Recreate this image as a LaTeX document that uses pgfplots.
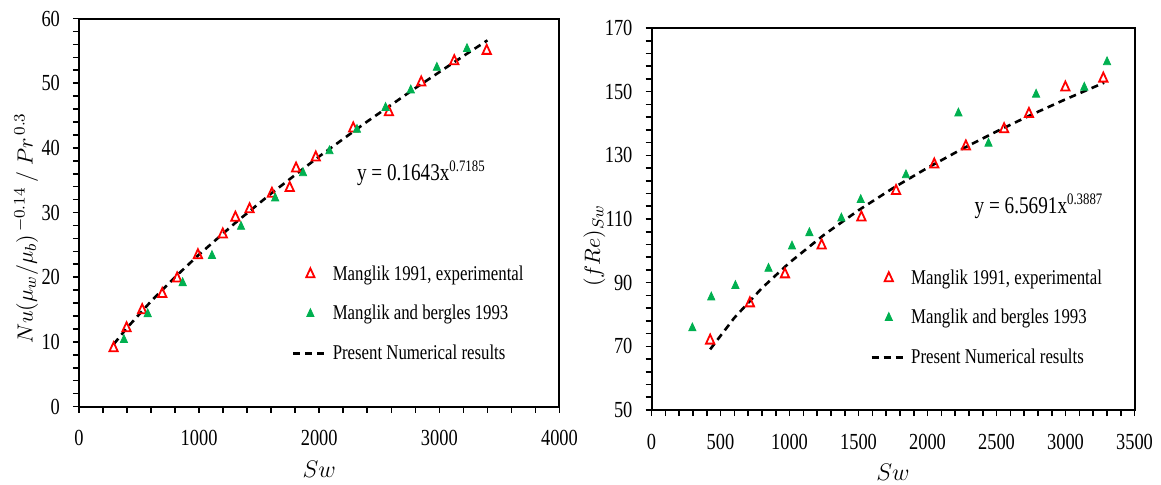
\documentclass[border=0pt]{standalone}
\usepackage{fontspec}
\setmainfont{Liberation Serif}
\newfontfamily\cond[FakeStretch=0.8]{Liberation Serif}
\usepackage{pgfplots}
\pgfplotsset{compat=1.18}
\definecolor{mred}{RGB}{255,0,0}
\definecolor{mgreen}{RGB}{0,176,80}

\pgfplotsset{
  panel/.style={
    scale only axis,
    axis line style={line width=1pt},
    tick align=outside, xtick pos=bottom, ytick pos=left,
    major tick length=3pt, minor tick length=3pt,
    tick style={black, line width=0.8pt},
    minor x tick num=4, minor y tick num=4,
    ticklabel style={font=\cond\fontsize{11.5}{13}\selectfont},
    xticklabel style={yshift=-5.5pt},
    yticklabel style={xshift=-3pt},
    /pgf/number format/assume math mode=true,
    /pgf/number format/1000 sep={},
    scaled x ticks=false,
    legend style={draw=none, fill=none, anchor=north west,
      font=\cond\fontsize{10.5}{12}\selectfont, row sep=7pt},
    legend cell align=left,
  },
  red tri/.style={only marks, mark=triangle, mark size=3pt, mred,
    line width=0.9pt, mark options={xscale=0.8}},
  green tri/.style={only marks, mark=triangle*, mark size=2.6pt, mgreen,
    mark options={xscale=0.8}},
  num line/.style={black, no marks, line width=1.3pt, dash pattern=on 3.5pt off 2.5pt},
}

\begin{document}
\begin{tikzpicture}
  \path[use as bounding box] (-39.5pt,-38.75pt) rectangle (541pt,203.25pt);

  % left: Nusselt number
  \begin{axis}[panel,
      at={(0pt,0pt)}, anchor=south west,
      width=240.25pt, height=194pt,
      xmin=0, xmax=4000, ymin=0, ymax=60,
      xtick={0,1000,...,4000}, ytick={0,10,...,60},
      xlabel={$Sw$},
      xlabel style={at={(axis description cs:0.5,-0.162)}, anchor=center, font=\fontsize{12.5}{14}\selectfont},
      ylabel={$Nu(\mu_w/\mu_b)^{\,-0.14}\ /\ Pr^{\,0.3}$},
      ylabel style={at={(axis description cs:-0.11,0.46)}, anchor=center, font=\fontsize{10.8}{13}\selectfont},
      legend style={at={(axis description cs:0.43,0.385)}},
    ]
    \addplot[red tri] coordinates {
      (288,9.0) (396,12.1) (526,14.9) (693,17.4) (817,19.8) (990,23.4)
      (1197,26.6) (1302,29.2) (1420,30.5) (1606,32.9) (1754,33.8) (1807,36.8)
      (1971,38.5) (2283,43.0) (2580,45.5) (2849,50.1) (3124,53.4) (3394,55.0)};
    \addlegendentry{Manglik 1991, experimental}
    \addplot[green tri] coordinates {
      (374,10.3) (572,14.3) (863,19.1) (1107,23.3) (1349,27.8) (1633,32.2)
      (1865,36.1) (2085,39.5) (2314,42.8) (2552,46.2) (2762,48.9) (2979,52.4)
      (3230,55.3)};
    \addlegendentry{Manglik and bergles 1993}
    \addplot[num line] coordinates {
      (290,9.66) (400,12.17) (600,16.28) (800,20.02) (1000,23.51) (1300,28.38)
      (1600,32.95) (2000,38.68) (2400,44.08) (2800,49.24) (3200,54.20) (3400,56.62)};
    \addlegendentry{Present Numerical results}
    \node[anchor=base, font=\cond\fontsize{12}{14}\selectfont] at (axis cs:2850,35.0)
      {y = 0.1643x\textsuperscript{0.7185}};
  \end{axis}

  % right: friction factor
  \begin{axis}[panel,
      at={(286.25pt,-1.75pt)}, anchor=south west,
      width=241.5pt, height=191pt,
      xmin=0, xmax=3500, ymin=50, ymax=170,
      xtick={0,500,...,3500}, ytick={50,70,...,170},
      xlabel={$Sw$},
      xlabel style={at={(axis description cs:0.5,-0.164)}, anchor=center, font=\fontsize{12.5}{14}\selectfont},
      ylabel={$(fRe)_{Sw}$},
      ylabel style={at={(axis description cs:-0.118,0.43)}, anchor=center, font=\fontsize{11}{13}\selectfont},
      legend style={at={(axis description cs:0.44,0.39)}},
    ]
    \addplot[red tri] coordinates {
      (425,71.8) (713,83.5) (967,92.6) (1233,101.7) (1521,110.5) (1772,118.8)
      (2049,127.1) (2278,132.8) (2555,138.2) (2735,143.0) (2999,151.3) (3274,154.1)};
    \addlegendentry{Manglik 1991, experimental}
    \addplot[green tri] coordinates {
      (296,75.7) (433,85.4) (608,89.0) (848,94.4) (1018,101.4) (1144,105.6)
      (1376,110.2) (1516,116.0) (1844,123.8) (2224,143.2) (2442,133.7)
      (2787,149.1) (3136,151.3) (3301,159.3)};
    \addlegendentry{Manglik and bergles 1993}
    \addplot[num line] coordinates {
      (425,69.05) (600,78.95) (800,88.30) (1000,96.30) (1250,105.03) (1500,112.74)
      (1750,119.70) (2000,126.08) (2250,131.99) (2500,137.50) (2750,142.70)
      (3000,147.60) (3280,152.81)};
    \addlegendentry{Present Numerical results}
    \node[anchor=base, font=\cond\fontsize{12}{14}\selectfont] at (axis cs:2808,111.8)
      {y = 6.5691x\textsuperscript{0.3887}};
  \end{axis}
\end{tikzpicture}
\end{document}
